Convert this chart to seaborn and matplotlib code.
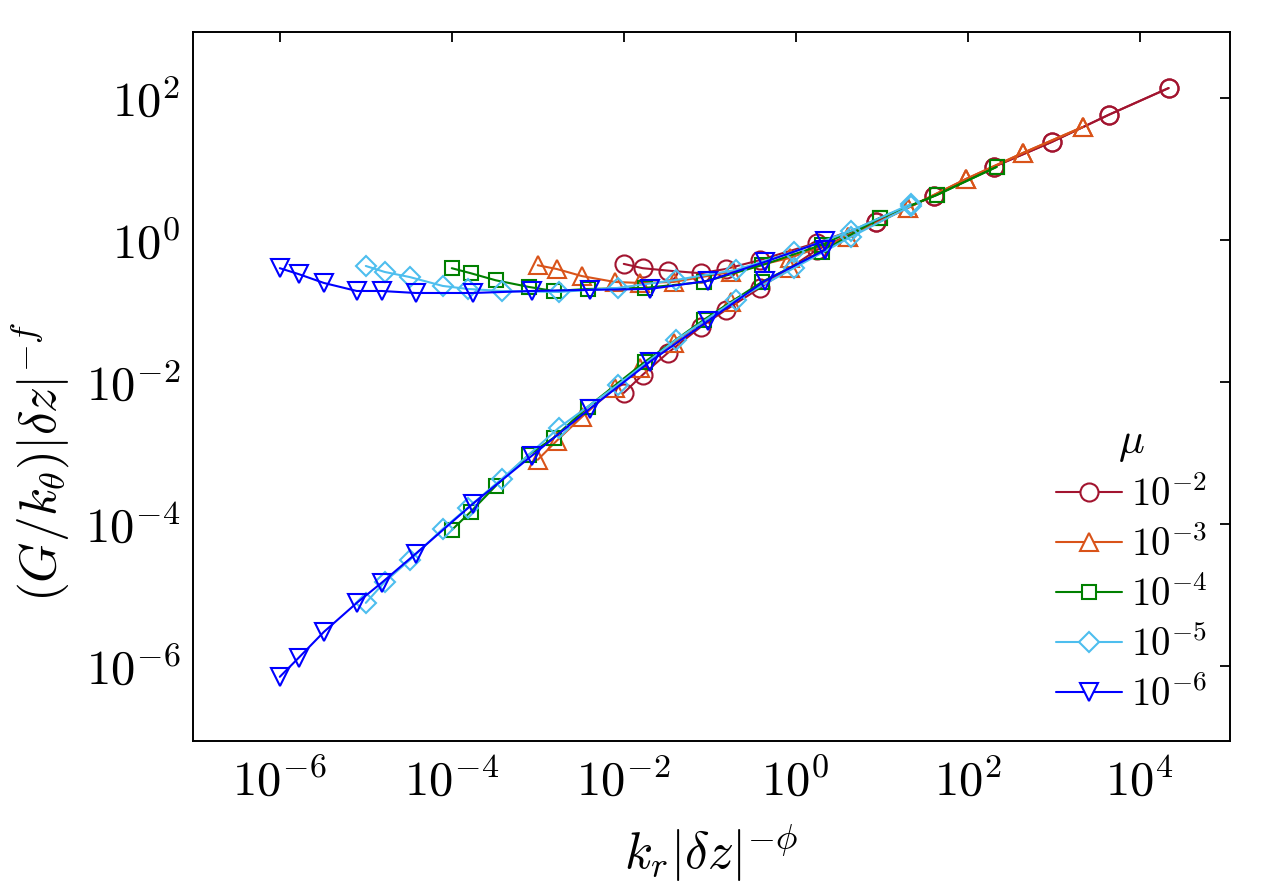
import numpy as np
import pandas as pd
import matplotlib
matplotlib.use("Agg")
import matplotlib.pyplot as plt
import seaborn as sns
from matplotlib.lines import Line2D
from matplotlib.ticker import FixedLocator, FuncFormatter, NullLocator

# ---------------- data ----------------
mu_labels = [r"$10^{-2}$", r"$10^{-3}$", r"$10^{-4}$", r"$10^{-5}$", r"$10^{-6}$"]

x_mu2 = [1.0e-2, 1.66e-2, 3.25e-2, 7.85e-2, 0.153, 0.381, 1.75, 8.51, 40.3, 200, 948, 4370, 21700]
x_mu3 = [1.0e-3, 1.66e-3, 3.25e-3, 7.85e-3, 1.53e-2, 3.81e-2, 0.175, 0.851, 4.03, 20.0, 94.8, 437, 2170]
x_mu4 = [1.0e-4, 1.66e-4, 3.25e-4, 7.85e-4, 1.53e-3, 3.81e-3, 1.75e-2, 8.51e-2, 0.403, 2.00, 9.48, 43.7, 217]
x_mu5 = [1.0e-5, 1.66e-5, 3.25e-5, 7.85e-5, 1.53e-4, 3.81e-4, 1.75e-3, 8.51e-3, 4.03e-2, 0.200, 0.948, 4.37, 21.7]
x_mu6 = [1.0e-6, 1.66e-6, 3.25e-6, 7.85e-6, 1.53e-5, 3.81e-5, 1.75e-4, 8.51e-4, 4.03e-3, 2.00e-2, 9.48e-2, 0.437, 2.17]

# upper branch
up_mu2 = [0.46, 0.40, 0.37, 0.34, 0.39, 0.52, 0.91, 1.79, 4.2, 10.7, 24.0, 58.0, 138.0]
up_mu3 = [0.44, 0.39, 0.31, 0.256, 0.248, 0.256, 0.354, 0.557, 1.10, 2.82, 7.2, 16.8, 39.0]
up_mu4 = [0.40, 0.34, 0.27, 0.218, 0.191, 0.204, 0.211, 0.256, 0.44, 0.85, 2.04, 4.3, 10.7]
up_mu5 = [0.43, 0.354, 0.30, 0.225, 0.204, 0.191, 0.185, 0.211, 0.273, 0.378, 0.68, 1.34, 3.2]
up_mu6 = [0.40, 0.33, 0.248, 0.191, 0.191, 0.179, 0.179, 0.191, 0.198, 0.204, 0.265, 0.49, 0.97]

# lower branch
lo_mu2 = [7.0e-3, 1.26e-2, 2.56e-2, 5.95e-2, 0.103, 0.21, 0.72, 1.79, 4.2, 10.7, 24.0, 58.0, 138.0]
lo_mu3 = [8.0e-4, 1.48e-3, 3.2e-3, 8.2e-3, 1.57e-2, 3.54e-2, 0.134, 0.40, 1.10, 2.82, 7.2, 16.8, 39.0]
lo_mu4 = [8.2e-5, 1.48e-4, 3.43e-4, 9.4e-4, 1.63e-3, 4.45e-3, 1.91e-2, 7.5e-2, 0.256, 0.68, 2.04, 4.3, 10.7]
lo_mu5 = [7.7e-6, 1.52e-5, 3.1e-5, 8.5e-5, 1.68e-4, 4.3e-4, 2.25e-3, 9.1e-3, 3.9e-2, 0.143, 0.40, 1.10, 3.0]
lo_mu6 = [7.0e-7, 1.3e-6, 3.0e-6, 7.7e-6, 1.48e-5, 3.8e-5, 1.91e-4, 9.1e-4, 4.2e-3, 1.91e-2, 7.2e-2, 0.265, 0.72]

x_ticks = [1e-6, 1e-4, 1e-2, 1e0, 1e2, 1e4]
y_ticks = [1e-6, 1e-4, 1e-2, 1e0, 1e2]

# ---------------- styling ----------------
colors = ["#A2142F", "#D95319", "#008000", "#4DBEEE", "#0000FF"]
markers = ["o", "^", "s", "D", "v"]
msizes = [13, 13, 10, 10, 13]

xs = [x_mu2, x_mu3, x_mu4, x_mu5, x_mu6]
ups = [up_mu2, up_mu3, up_mu4, up_mu5, up_mu6]
los = [lo_mu2, lo_mu3, lo_mu4, lo_mu5, lo_mu6]

rows = []
for lab, x, u, l in zip(mu_labels, xs, ups, los):
    for xv, yv in zip(x, u):
        rows.append((lab, "upper", xv, yv))
    for xv, yv in zip(x, l):
        rows.append((lab, "lower", xv, yv))
df = pd.DataFrame(rows, columns=["mu", "branch", "x", "y"])

sns.set_theme(style="white")
plt.rcParams["mathtext.fontset"] = "cm"
plt.rcParams["font.family"] = ["DejaVu Serif"]
for k in ["text.color", "axes.labelcolor", "xtick.color", "ytick.color", "axes.edgecolor"]:
    plt.rcParams[k] = "black"

fig = plt.figure(figsize=(12.78, 8.94), dpi=100)
ax = fig.add_axes([0.1510, 0.1711, 0.8114, 0.7931])

for lab, c, m, ms in zip(mu_labels, colors, markers, msizes):
    for br in ["upper", "lower"]:
        sub = df[(df["mu"] == lab) & (df["branch"] == br)]
        sns.lineplot(data=sub, x="x", y="y", ax=ax, color=c, marker=m,
                     markersize=ms, markerfacecolor="none", markeredgecolor=c,
                     markeredgewidth=1.5, linewidth=1.5, estimator=None,
                     sort=False, legend=False)

ax.set_xscale("log")
ax.set_yscale("log")
ax.set_xlim(10 ** -7.01, 10 ** 5.05)
ax.set_ylim(10 ** -7.06, 10 ** 2.93)

ax.xaxis.set_major_locator(FixedLocator(x_ticks))
ax.yaxis.set_major_locator(FixedLocator(y_ticks))
ax.xaxis.set_minor_locator(NullLocator())
ax.yaxis.set_minor_locator(NullLocator())
fmt = FuncFormatter(lambda v, p: r"$10^{%d}$" % int(round(np.log10(v))))
ax.xaxis.set_major_formatter(fmt)
ax.yaxis.set_major_formatter(fmt)

ax.tick_params(axis="both", which="major", direction="in", length=7, width=1.3,
               top=True, right=True, labelsize=35, color="black", labelcolor="black")
ax.tick_params(axis="x", pad=13)
ax.tick_params(axis="y", pad=9)

for s in ax.spines.values():
    s.set_visible(True)
    s.set_color("black")
    s.set_linewidth(1.4)

ax.set_xlabel(r"$k_r|\delta z|^{-\phi}$", fontsize=37, color="black")
ax.set_ylabel(r"$(G/k_\theta)|\delta z|^{-f}$", fontsize=37, color="black")
ax.xaxis.set_label_coords(0.5, -0.115)
ax.yaxis.set_label_coords(-0.118, 0.394)

handles = [Line2D([0], [0], color=c, marker=m, markersize=ms, markerfacecolor="white",
                  markeredgecolor=c, markeredgewidth=1.5, linewidth=1.5)
           for c, m, ms in zip(colors, markers, msizes)]
leg = ax.legend(handles, mu_labels, title=r"$\mu$", loc="lower right",
                bbox_to_anchor=(1.005, 0.0), frameon=False, fontsize=28,
                title_fontsize=31, handlelength=1.7, handletextpad=0.25,
                labelspacing=0.3, borderpad=0.2)
for t in leg.get_texts():
    t.set_color("black")
leg.get_title().set_color("black")

fig.savefig("out.png", dpi=100, facecolor="white")
